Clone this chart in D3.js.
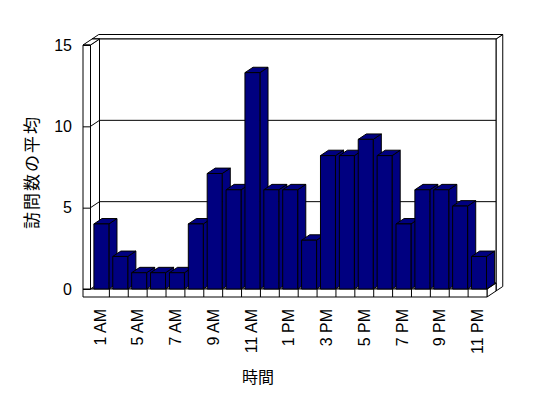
<!DOCTYPE html>
<html>
<head>
<meta charset="utf-8">
<script src="https://cdn.jsdelivr.net/npm/d3@7"></script>
<style>
  body { margin: 0; background: #fff; }
  svg text { font-family: "Liberation Sans", Arial, sans-serif; fill: #000; }
  .jp { font-family: "Noto Sans CJK JP", sans-serif; }
</style>
</head>
<body>
<figure id="chart" style="margin:0"></figure>
<script>
const categories = ["1 AM", "4 AM", "5 AM", "6 AM", "7 AM", "8 AM", "9 AM", "10 AM", "11 AM", "12 PM", "1 PM",
  "2 PM", "3 PM", "4 PM", "5 PM", "6 PM", "7 PM", "8 PM", "9 PM", "10 PM", "11 PM"];
const visits = [4, 2, 1, 1, 1, 4, 7.1, 6.1, 13.3, 6.1, 6.1, 3, 8.2, 8.2, 9.2, 8.2, 4, 6.1, 6.1, 5.1, 2];
const yTicks = [0, 5, 10, 15];
const yTitle = "訪問数の平均";
const xTitle = "時間";

const width = 548, height = 398;
const wallLeft = 83, plotLeft = 90.5, plotRight = 487;
const floorTop = 289, floorBottom = 297;
const depth = { x: 9, y: -6 };   // offset of one unit of depth (front -> back wall)
const wallDepth = 1.75;           // back wall thickness ends here

const svg = d3.select("#chart").append("svg")
  .attr("width", width)
  .attr("height", height);

const x = d3.scaleBand().domain(categories).range([plotLeft, plotRight]);
const y = d3.scaleLinear().domain([0, 15]).range([floorTop, 45]);

// projection of a front-plane point pushed back by z
const p = (px, py, z) => [px + z * depth.x, py + z * depth.y];

// draw the visible faces (right, top, front) of a box
function box(g, x0, x1, yTop, yBot, z0, z1, fill) {
  const faces = [
    [p(x1, yTop, z0), p(x1, yTop, z1), p(x1, yBot, z1), p(x1, yBot, z0)],
    [p(x0, yTop, z0), p(x1, yTop, z0), p(x1, yTop, z1), p(x0, yTop, z1)],
    [p(x0, yTop, z0), p(x1, yTop, z0), p(x1, yBot, z0), p(x0, yBot, z0)]
  ];
  g.selectAll(null).data(faces).enter().append("polygon")
    .attr("points", d => d.map(q => q.join(",")).join(" "))
    .attr("fill", fill)
    .attr("stroke", "#000")
    .attr("stroke-width", 1)
    .attr("stroke-linejoin", "miter");
}

const frame = svg.append("g");

// back wall + its grid lines
box(frame, wallLeft, plotRight, y(15), floorBottom, 1, wallDepth, "#fff");
frame.selectAll(".grid").data(yTicks.filter(v => v > 0 && v < 15)).enter().append("line")
  .attr("x1", d => p(plotLeft, y(d), 1)[0])
  .attr("y1", d => p(plotLeft, y(d), 1)[1])
  .attr("x2", d => p(plotRight, y(d), 1)[0])
  .attr("y2", d => p(plotRight, y(d), 1)[1])
  .attr("stroke", "#000");

// floor
box(frame, wallLeft, plotRight, floorTop, floorBottom, 0, 1, "#fff");
frame.selectAll(".cat").data(categories.slice(1)).enter().append("line")
  .attr("x1", d => x(d)).attr("x2", d => x(d))
  .attr("y1", floorTop).attr("y2", floorBottom)
  .attr("stroke", "#000");

// left wall + slanted grid lines on its inner side
box(frame, wallLeft, plotLeft, y(15), floorTop, 0, 1, "#fff");
frame.selectAll(".lgrid").data(yTicks.filter(v => v > 0 && v < 15)).enter().append("line")
  .attr("x1", plotLeft).attr("y1", d => y(d))
  .attr("x2", d => p(plotLeft, y(d), 1)[0])
  .attr("y2", d => p(plotLeft, y(d), 1)[1])
  .attr("stroke", "#000");

// y axis labels and ticks on the wall front
const yAxis = svg.append("g")
  .attr("transform", `translate(${wallLeft},0)`)
  .call(d3.axisLeft(y).tickValues(yTicks).tickSizeInner(-(plotLeft - wallLeft)).tickSizeOuter(0).tickPadding(11));
yAxis.select(".domain").remove();
yAxis.selectAll("line").attr("stroke", "#000");
yAxis.selectAll("text").attr("font-size", 16).attr("font-family", null);

// bars, left to right so each front covers the previous side
const bars = svg.append("g");
categories.forEach((c, i) => {
  box(bars, x(c) + 3.4, x(c) + x.bandwidth() - 0.5, y(visits[i]), floorTop, 0, 0.9, "#000080");
});

// x axis labels
const xAxis = svg.append("g")
  .attr("transform", `translate(0,${floorBottom})`)
  .call(d3.axisBottom(x).tickValues(categories.filter((d, i) => i % 2 === 0)).tickSize(0));
xAxis.select(".domain").remove();
xAxis.selectAll("text")
  .attr("font-size", 16)
  .attr("font-family", null)
  .attr("transform", "rotate(-90)")
  .attr("x", -12)
  .attr("y", 0)
  .attr("dy", "0.35em")
  .style("text-anchor", "end");

// titles
svg.append("text")
  .attr("class", "jp")
  .attr("x", 258)
  .attr("y", 383)
  .attr("text-anchor", "middle")
  .attr("font-size", 16)
  .text(xTitle);

svg.append("text")
  .attr("class", "jp")
  .attr("transform", "translate(38,172) rotate(-90)")
  .attr("text-anchor", "middle")
  .attr("font-size", 17)
  .attr("letter-spacing", 2)
  .text(yTitle);
</script>
</body>
</html>
